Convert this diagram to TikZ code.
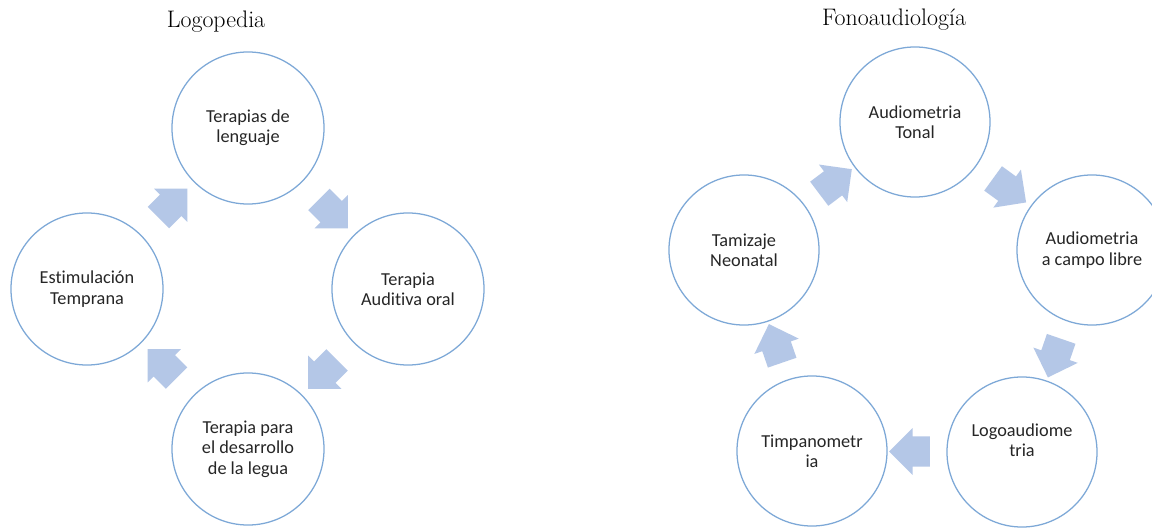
\documentclass[tikz,border=0pt]{standalone}
\usepackage{fontspec}
\newfontfamily\calib[Ligatures=NoCommon]{Carlito}
\usetikzlibrary{calc,shapes.arrows}

\definecolor{ringblue}{RGB}{125,168,215}
\definecolor{arrowblue}{RGB}{180,199,231}
\definecolor{txtgray}{RGB}{38,38,38}

\tikzset{
  ring/.style={draw=ringblue, line width=0.9pt, circle, minimum size=3.8cm, inner sep=0pt,
    align=center, text=txtgray, font=\calib\fontsize{13}{14.5}\selectfont},
  ringr/.style={ring, minimum size=3.75cm},
  blkarrow/.style={single arrow, fill=arrowblue, draw=none, minimum height=1.02cm,
    inner xsep=0pt, inner ysep=0.37cm, single arrow head extend=0.21cm},
  title/.style={font=\fontsize{17}{20}\selectfont}
}

\begin{document}
\begin{tikzpicture}[x=0.025cm, y=-0.025cm]
    \fill[white] (0,0) rectangle (1152,527);
    \useasboundingbox (0,0) rectangle (1152,527);

    % titles
    \node[title] (tlogo) at (216,22) {Logopedia};
    \node[title] (tfono) at (894,20) {Fonoaudiología};

    % logopedia cycle
    \node[ring] (lenguaje) at (248,128) {Terapias de\\lenguaje};
    \node[ring] (auditiva) at (408,289) {Terapia\\Auditiva oral};
    \node[ring] (legua) at (248,449) {Terapia para\\el desarrollo\\de la legua};
    \node[ring] (estim) at (87,289) {Estimulación\\Temprana};

    \node[blkarrow, rotate=45] (la1) at ($(estim)!0.5!(lenguaje)$) {};
    \node[blkarrow, rotate=-45] (la2) at ($(lenguaje)!0.5!(auditiva)$) {};
    \node[blkarrow, rotate=-135] (la3) at ($(auditiva)!0.5!(legua)$) {};
    \node[blkarrow, rotate=135] (la4) at ($(legua)!0.5!(estim)$) {};

    % fonoaudiologia cycle
    \node[ringr] (tonal) at (915,122) {Audiometria\\Tonal};
    \node[ringr] (campo) at (1092,250) {Audiometria\\a campo libre};
    \node[ringr, label={[align=center, text=txtgray, font=\calib\fontsize{13}{14.5}\selectfont,
      yshift=0.3cm]center:Logoaudiome\\tria}] (logo) at (1022,452) {};
    \node[ringr] (timpano) at (812,451) {Timpanometr\\ia};
    \node[ringr] (tamizaje) at (744,250) {Tamizaje\\Neonatal};

    \node[blkarrow, rotate=37] (fa1) at ($(tamizaje)!0.5!(tonal)$) {};
    \node[blkarrow, rotate=-36] (fa2) at ($(tonal)!0.5!(campo)$) {};
    \node[blkarrow, rotate=-109] (fa3) at ($(campo)!0.5!(logo)$) {};
    \node[blkarrow, rotate=180] (fa4) at ($(logo)!0.5!(timpano)$) {};
    \node[blkarrow, rotate=109] (fa5) at ($(timpano)!0.5!(tamizaje)$) {};
\end{tikzpicture}
\end{document}
